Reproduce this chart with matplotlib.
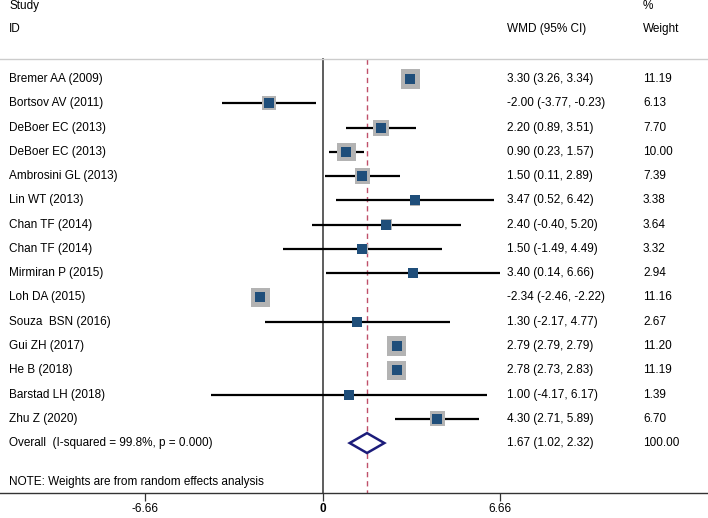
import matplotlib
matplotlib.use("Agg")
import matplotlib.pyplot as plt
import numpy as np

plt.rcParams['font.family'] = ['Liberation Sans', 'DejaVu Sans']

studies = ["Bremer AA (2009)", "Bortsov AV (2011)", "DeBoer EC (2013)", "DeBoer EC (2013)",
           "Ambrosini GL (2013)", "Lin WT (2013)", "Chan TF (2014)", "Chan TF (2014)",
           "Mirmiran P (2015)", "Loh DA (2015)", "Souza  BSN (2016)", "Gui ZH (2017)",
           "He B (2018)", "Barstad LH (2018)", "Zhu Z (2020)"]
wmd = [3.30, -2.00, 2.20, 0.90, 1.50, 3.47, 2.40, 1.50, 3.40, -2.34, 1.30, 2.79, 2.78, 1.00, 4.30]
lo = [3.26, -3.77, 0.89, 0.23, 0.11, 0.52, -0.40, -1.49, 0.14, -2.46, -2.17, 2.79, 2.73, -4.17, 2.71]
hi = [3.34, -0.23, 3.51, 1.57, 2.89, 6.42, 5.20, 4.49, 6.66, -2.22, 4.77, 2.79, 2.83, 6.17, 5.89]
weights = [11.19, 6.13, 7.70, 10.00, 7.39, 3.38, 3.64, 3.32, 2.94, 11.16, 2.67, 11.20, 11.19, 1.39, 6.70]
overall = (1.67, 1.02, 2.32)
overall_label = "Overall  (I-squared = 99.8%, p = 0.000)"
xticks = [-6.66, 0, 6.66]
xticklabels = ["-6.66", "0", "6.66"]

W, H = 708, 518
fig = plt.figure(figsize=(W/100, H/100), dpi=100)
ax_bottom_px = 493
ax = fig.add_axes([0, (H - ax_bottom_px)/H, 1, ax_bottom_px/H])

# x: 0 at 322.5 px, 26.65 px per unit
ppu = 26.65
x0 = 322.5
ax.set_xlim(-x0/ppu, (W - x0)/ppu)
# y: rows; row 0 at y=79px, spacing 24.27px
sp = 24.27
r0 = 79
ax.set_ylim((ax_bottom_px - r0)/sp, -r0/sp)

def ypx(p):
    return (p - r0)/sp

def xpx(p):
    return (p - x0)/ppu

n = len(studies)
rows = np.arange(n)
fs = 8.5

# vertical lines
ax.plot([0, 0], [ypx(59), ypx(ax_bottom_px)], color='#505050', lw=1.3, zorder=1)
ax.plot([overall[0]]*2, [ypx(59), ypx(ax_bottom_px)], color='#c0506a', lw=1.0,
        ls=(0, (3.8, 2.8)), zorder=1)
# top rule
ax.plot(ax.get_xlim(), [ypx(59)]*2, color='#cccccc', lw=1.0, zorder=1)

# CI lines
for i in range(n):
    ax.plot([lo[i], hi[i]], [i, i], color='black', lw=1.6, zorder=2, solid_capstyle='butt')

# weight boxes
k = 5.75
side_pts = k*np.sqrt(np.array(weights))*0.72
ax.scatter(wmd, rows, s=side_pts**2, marker='s', color='#b3b3b3', linewidths=0, zorder=3)
ax.scatter(wmd, rows, s=(7.0)**2, marker='s', color='#1f4e7a', linewidths=0, zorder=4)

# diamond
orow = n
dh = 0.41
ax.fill([overall[1], overall[0], overall[2], overall[0], overall[1]],
        [orow, orow - dh, orow, orow + dh, orow], facecolor='white',
        edgecolor='#1c1c7a', lw=1.8, zorder=4)

# text columns
xl = xpx(9)
xw = xpx(507)
xwt = xpx(643)
for i in range(n):
    ax.text(xl, i, studies[i], fontsize=fs, va='center', ha='left')
    ax.text(xw, i, f"{wmd[i]:.2f} ({lo[i]:.2f}, {hi[i]:.2f})", fontsize=fs, va='center', ha='left')
    ax.text(xwt, i, f"{weights[i]:.2f}", fontsize=fs, va='center', ha='left')
ax.text(xl, orow, overall_label, fontsize=fs, va='center', ha='left')
ax.text(xw, orow, f"{overall[0]:.2f} ({overall[1]:.2f}, {overall[2]:.2f})", fontsize=fs, va='center', ha='left')
ax.text(xwt, orow, "100.00", fontsize=fs, va='center', ha='left')
ax.text(xl, ypx(482), "NOTE: Weights are from random effects analysis", fontsize=fs, va='center', ha='left')

# headers
ax.text(xl, ypx(6), "Study", fontsize=fs, va='center', ha='left')
ax.text(xl, ypx(29), "ID", fontsize=fs, va='center', ha='left')
ax.text(xw, ypx(29), "WMD (95% CI)", fontsize=fs, va='center', ha='left')
ax.text(xwt, ypx(6), "%", fontsize=fs, va='center', ha='left')
ax.text(xwt, ypx(29), "Weight", fontsize=fs, va='center', ha='left')

# axes styling
for s in ['top', 'left', 'right']:
    ax.spines[s].set_visible(False)
ax.spines['bottom'].set_color('#333333')
ax.spines['bottom'].set_linewidth(1.0)
ax.set_yticks([])
ax.set_xticks(xticks)
ax.set_xticklabels(xticklabels, fontsize=fs)
ax.get_xticklabels()[1].set_fontweight('bold')
ax.tick_params(axis='x', length=5.5, width=0.9, color='#333333', pad=2)

fig.savefig("out.png", dpi=100)
